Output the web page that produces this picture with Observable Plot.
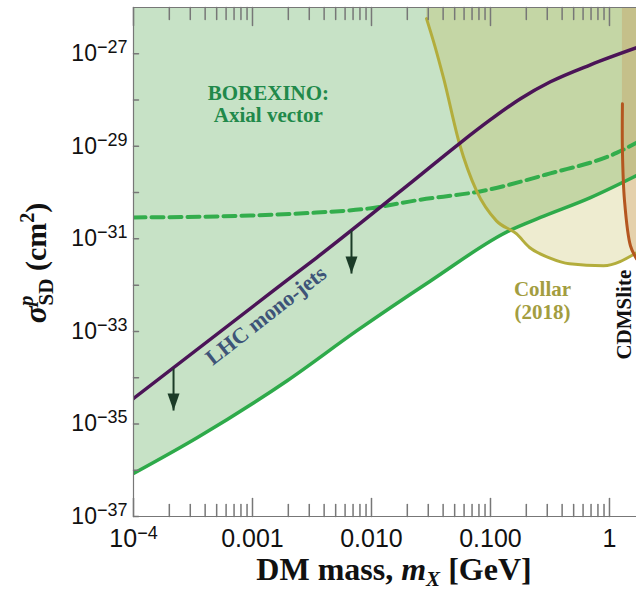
<!DOCTYPE html>
<html><head><meta charset="utf-8">
<script src="https://cdn.jsdelivr.net/npm/d3@7"></script>
<script src="https://cdn.jsdelivr.net/npm/@observablehq/plot@0.6"></script>
<style>body{margin:0;background:#fff}</style>
</head><body><div id="chart"></div>
<script>
// ---- data (mass in GeV, cross-section in cm^2) ----
const borexinoMass  = [1e-4, 3.45e-4, 1.97e-3, 7.6e-3, 0.0313, 0.1445, 0.263, 0.692, 1.69];
const borexinoSigma = [8.5e-37, 5.1e-36, 8.7e-35, 1.05e-33, 1.23e-32, 1.51e-31, 2.9e-31, 7.8e-31, 2.34e-30];

const borexinoVecMass  = [1e-4, 9.6e-4, 3.45e-3, 9.25e-3, 0.0239, 0.0873, 0.313, 1.146, 1.69];
const borexinoVecSigma = [2.9e-31, 3.2e-31, 3.7e-31, 4.5e-31, 6.8e-31, 1.1e-30, 2.57e-30, 7.2e-30, 1.2e-29];

const lhcMass  = [1e-4, 1.5e-3, 3.45e-3, 0.02255, 0.0548, 0.1, 0.1786, 0.319, 0.692, 1.69];
const lhcSigma = [3.55e-35, 7.6e-33, 3.9e-32, 1.82e-30, 1.15e-29, 3.76e-29, 1.07e-28, 2.48e-28, 5.78e-28, 1.35e-27];

const collarMass  = [0.029, 0.034, 0.0403, 0.0548, 0.0762, 0.1122, 0.165, 0.213, 0.313, 0.461, 0.891, 1.69];
const collarSigma = [5.75e-27, 1.5e-27, 3.0e-28, 1.15e-29, 1.1e-30, 2.45e-31, 1.29e-31, 6.5e-32, 3.9e-32, 2.9e-32, 2.63e-32, 5.0e-32];

const cdmsMass  = [1.285, 1.285, 1.337, 1.50, 1.69];
const cdmsSigma = [8.3e-29, 7.9e-30, 6.8e-31, 7.1e-32, 3.7e-32];

// arrows on the LHC limit
const arrowMass = [2.17e-4, 6.79e-3];
const arrowFrom = [1.58e-34, 1.51e-31];
const arrowTo   = [1.95e-35, 1.78e-32];

// axes
const xDomain = [1e-4, 1.687];
const yDomain = [1e-37, 1e-26];
const xTickValues = [1e-4, 1e-3, 1e-2, 1e-1, 1];
const xTickLabels = ["10^-4", "0.001", "0.010", "0.100", "1"];
const yTickValues = [1e-27, 1e-29, 1e-31, 1e-33, 1e-35, 1e-37];
const yTickLabels = ["10^-27", "10^-29", "10^-31", "10^-33", "10^-35", "10^-37"];
const yDecades = [1e-37,1e-36,1e-35,1e-34,1e-33,1e-32,1e-31,1e-30,1e-29,1e-28,1e-27];

const zip = (ms, ss) => ms.map((m, i) => ({m, s: ss[i]}));
const borexino = zip(borexinoMass, borexinoSigma);
const borexinoVec = zip(borexinoVecMass, borexinoVecSigma);
const lhc = zip(lhcMass, lhcSigma);
const collar = zip(collarMass, collarSigma);
const cdms = zip(cdmsMass, cdmsSigma);
const cdmsFill = [{m: cdmsMass[0], s: yDomain[1]}, ...cdms];
const arrows = arrowMass.map((m, i) => ({m, from: arrowFrom[i], to: arrowTo[i]}));
const xMinor = d3.scaleLog().domain(xDomain).ticks();

const serif = "'Liberation Serif','Times New Roman',serif";
const sans = "'Liberation Sans',Arial,Helvetica,sans-serif";
const axisGray = "#777";
const tickShape = {draw(ctx, l) { ctx.moveTo(0, 0); ctx.lineTo(0, -l); }};
const arrowHead = {draw(ctx) { ctx.moveTo(0, 0); ctx.lineTo(-6, -17); ctx.lineTo(6, -17); ctx.closePath(); }};

const plot = Plot.plot({
  width: 636, height: 597,
  marginTop: 7, marginLeft: 133, marginRight: 0, marginBottom: 81,
  x: {type: "log", domain: xDomain},
  y: {type: "log", domain: yDomain},
  style: {background: "white", fontFamily: sans, overflow: "visible"},
  marks: [
    // exclusion regions
    Plot.areaY(borexino, {x: "m", y1: "s", y2: () => yDomain[1], fill: "#c7e2c6", curve: "monotone-x", clip: true}),
    Plot.areaY(collar, {x: "m", y1: "s", y2: () => yDomain[1], fill: "rgb(191,180,75)", fillOpacity: 0.26, curve: "monotone-x", clip: true}),
    Plot.areaX(cdmsFill, {y: "s", x1: "m", x2: () => xDomain[1] * 1.2, fill: "rgb(200,115,45)", fillOpacity: 0.22, curve: "linear", clip: true}),
    // limit curves
    Plot.line(borexinoVec, {x: "m", y: "s", stroke: "#33ad4c", strokeWidth: 4, strokeDasharray: "12,6", curve: "monotone-x", clip: true}),
    Plot.line(borexino, {x: "m", y: "s", stroke: "#2eaa4a", strokeWidth: 3.5, curve: "monotone-x", clip: true}),
    Plot.line(collar, {x: "m", y: "s", stroke: "#b3ad3c", strokeWidth: 3, curve: "monotone-x", clip: true}),
    Plot.line(lhc, {x: "m", y: "s", stroke: "#4b1457", strokeWidth: 3.5, curve: "monotone-x", clip: true}),
    Plot.line(cdms, {x: "m", y: "s", stroke: "#b4561f", strokeWidth: 3, curve: "catmull-rom", clip: true}),
    // arrows
    Plot.link(arrows, {x1: "m", x2: "m", y1: "from", y2: "to", stroke: "#1b3b27", strokeWidth: 2}),
    Plot.dot(arrows, {x: "m", y: "to", symbol: arrowHead, fill: "#1b3b27", stroke: null, r: 6}),
    // labels
    Plot.text(["BOREXINO:\nAxial vector"], {x: 1.36e-3, y: 8.3e-29, fill: "#21894a", fontFamily: serif, fontWeight: "bold", fontSize: 21, lineHeight: 1.05}),
    Plot.text(["LHC mono-jets"], {x: 1.3e-3, y: 2.2e-33, rotate: -38, fill: "#3e5478", fontFamily: serif, fontWeight: "bold", fontSize: 22}),
    Plot.text(["Collar\n(2018)"], {x: 0.2735, y: 4.74e-33, fill: "#a39d40", fontFamily: serif, fontWeight: "bold", fontSize: 21, lineHeight: 1.12}),
    Plot.text(["CDMSlite"], {x: 1.337, y: 2.3e-33, rotate: -90, fill: "#111", fontFamily: serif, fontWeight: "bold", fontSize: 21}),
    // frame
    Plot.ruleX([xDomain[0]], {stroke: axisGray, strokeWidth: 1.2}),
    Plot.ruleY([yDomain[0], yDomain[1]], {stroke: axisGray, strokeWidth: 1.2}),
    // inward ticks
    Plot.vector(yDecades, {x: () => xDomain[0], y: d => d, length: 5, rotate: 90, anchor: "start", shape: tickShape, stroke: axisGray}),
    Plot.vector(xMinor, {x: d => d, y: () => yDomain[0], length: d => xTickValues.includes(d) ? 6 : 4, rotate: 0, anchor: "start", shape: tickShape, stroke: axisGray}),
    Plot.vector(xMinor, {x: d => d, y: () => yDomain[1], length: d => xTickValues.includes(d) ? 6 : 4, rotate: 180, anchor: "start", shape: tickShape, stroke: axisGray}),
    // axis labels
    Plot.axisX(xTickValues, {tickSize: 0, tickPadding: 13, fontSize: 25, fill: "#111", label: null,
      tickFormat: d => xTickLabels[xTickValues.indexOf(d)]}),
    Plot.axisY(yTickValues, {tickSize: 0, tickPadding: 6, fontSize: 23, fill: "#111", label: null,
      tickFormat: d => yTickLabels[yTickValues.indexOf(d)]})
  ]
});

// superscripts on tick labels
const svg = d3.select(plot);
svg.selectAll("text").each(function() {
  const t = this.textContent;
  const mm = /^10\^(-?\d+)$/.exec(t);
  if (!mm) return;
  const sel = d3.select(this);
  const big = parseFloat(sel.attr("font-size")) || 23;
  sel.text(null);
  sel.append("tspan").text("10");
  sel.append("tspan").attr("dy", "-0.45em").attr("font-size", Math.round(big * 0.78)).text(mm[1].replace("-", "\u2212"));
});

// x-axis title
const xt = svg.append("text").attr("x", 394).attr("y", 580).attr("text-anchor", "middle")
  .attr("font-family", serif).attr("font-weight", "bold").attr("font-size", 32).attr("fill", "#111");
xt.append("tspan").text("DM mass, ");
xt.append("tspan").attr("font-style", "italic").text("m");
xt.append("tspan").attr("font-style", "italic").attr("font-size", 21).attr("dy", 6).text("X");
xt.append("tspan").attr("dy", -6).text(" [GeV]");

// y-axis title
const yt = svg.append("text").attr("transform", "translate(46,263) rotate(-90)").attr("text-anchor", "middle")
  .attr("font-family", serif).attr("font-weight", "bold").attr("font-size", 30).attr("fill", "#111");
yt.append("tspan").attr("font-style", "italic").attr("font-size", 32).text("\u03c3");
yt.append("tspan").attr("font-style", "italic").attr("font-size", 21).attr("dy", -13).text("p");
yt.append("tspan").attr("font-size", 21).attr("dx", -10).attr("dy", 20).text("SD");
yt.append("tspan").attr("dy", -7).text(" (cm");
yt.append("tspan").attr("font-size", 20).attr("dy", -12).text("2");
yt.append("tspan").attr("dy", 12).text(")");

document.getElementById("chart").append(plot);
</script></body></html>
